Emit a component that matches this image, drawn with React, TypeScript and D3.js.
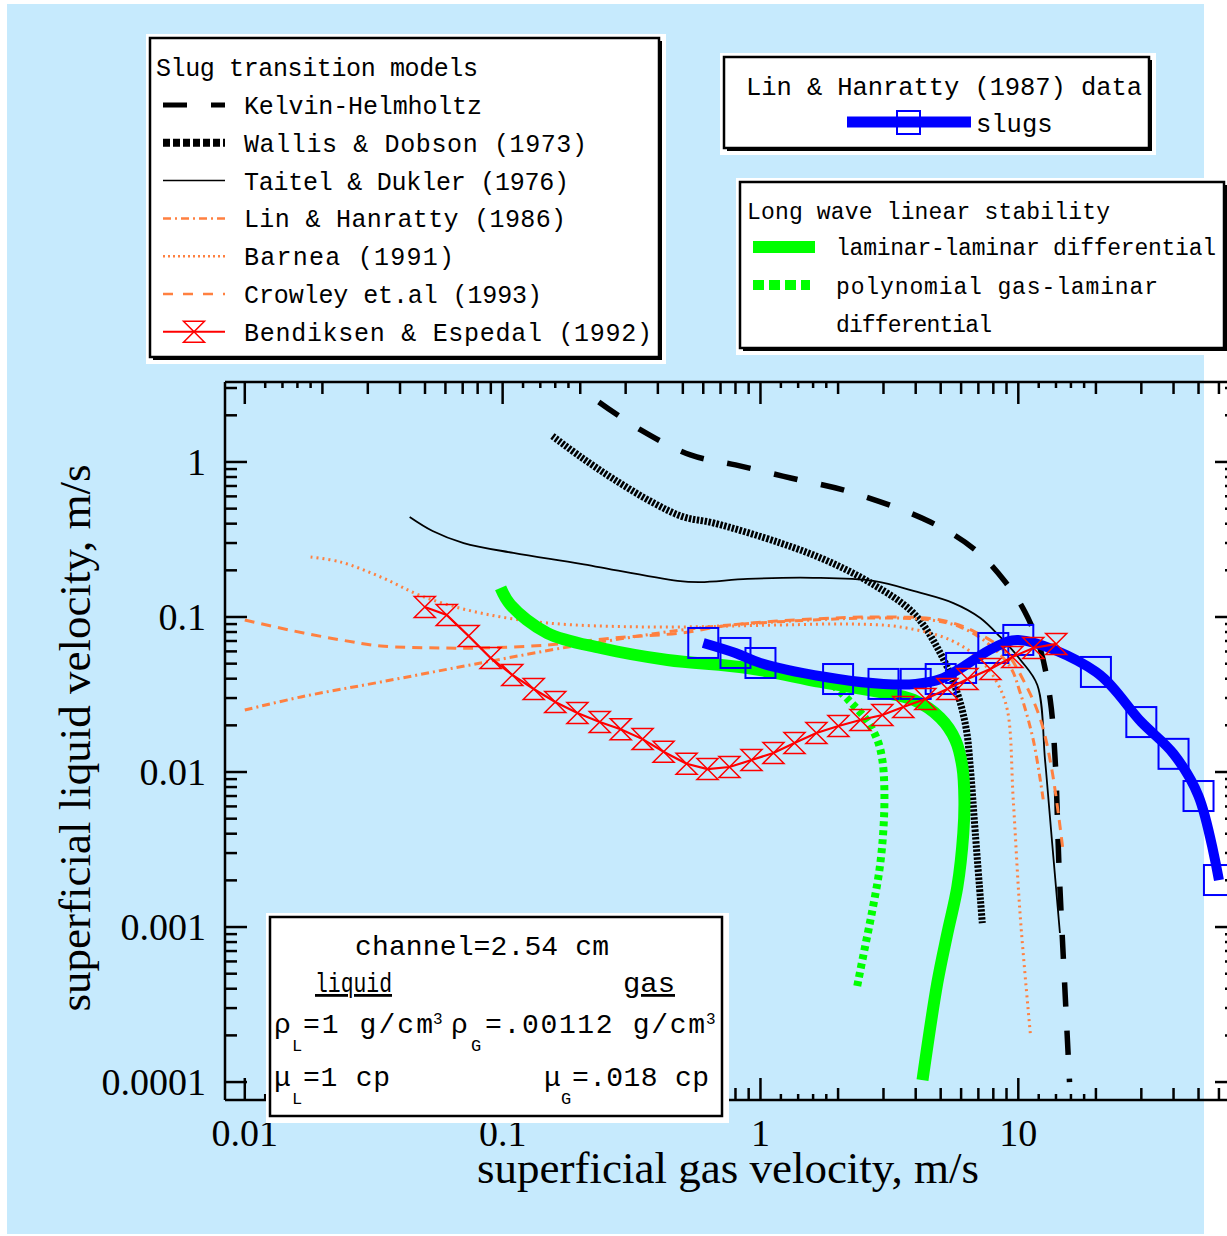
import React from 'react';
import * as d3 from 'd3';

type Pt = [number, number];

// axis extents (m/s)
const xDomain: [number, number] = [0.00838, 70.5];
const yDomain: [number, number] = [7.66e-5, 3.28];
const xTickValues = [0.01, 0.1, 1, 10];
const xTickLabels = ['0.01', '0.1', '1', '10'];
const yTickValues = [1, 0.1, 0.01, 0.001, 0.0001];
const yTickLabels = ['1', '0.1', '0.01', '0.001', '0.0001'];
const xFineMultipliers = [1.2, 1.4, 1.6, 1.8];

// slug transition models
const kelvinHelmholtz: Pt[] = [
  [0.236, 2.44], [0.343, 1.61], [0.535, 1.11], [0.8, 0.957], [1.31, 0.788], [2.23, 0.64],
  [4.56, 0.41], [6.81, 0.271], [8.91, 0.168], [10.6, 0.108], [12.2, 0.0612], [13.3, 0.0292],
  [13.9, 0.0119], [14.4, 0.00233], [15.1, 0.000455], [15.8, 0.0001],
];
const wallisDobson: Pt[] = [
  [0.156, 1.47], [0.201, 1.077], [0.269, 0.777], [0.385, 0.544], [0.503, 0.442], [0.658, 0.404],
  [1.195, 0.3], [1.787, 0.233], [2.67, 0.166], [3.92, 0.106], [4.98, 0.0586], [5.8, 0.0323],
  [6.29, 0.0187], [6.51, 0.0108], [6.81, 0.00404], [7.25, 0.00106],
];
const taitelDukler: Pt[] = [
  [0.0436, 0.442], [0.0535, 0.359], [0.0706, 0.3], [0.11, 0.259], [0.201, 0.22], [0.477, 0.171],
  [0.585, 0.168], [0.891, 0.176], [1.6, 0.179], [2.74, 0.171], [4.06, 0.145], [5.6, 0.123],
  [7.12, 0.0986], [8.51, 0.0743], [10.2, 0.0528], [11.85, 0.0364], [12.7, 0.0119],
  [13.5, 0.00364], [14.5, 0.000915],
];
const linHanratty86: Pt[] = [
  [0.01, 0.0251], [0.0165, 0.0305], [0.0337, 0.0381], [0.0822, 0.0505], [0.179, 0.064],
  [0.269, 0.0711], [0.49, 0.0824], [0.765, 0.0888], [1.605, 0.0957], [2.92, 0.0986],
  [4.56, 0.0957], [5.96, 0.0862], [7.58, 0.068], [9.31, 0.0476], [10.18, 0.0323],
  [11.43, 0.0161], [12.5, 0.00659],
];
const barnea: Pt[] = [
  [0.018, 0.244], [0.0236, 0.226], [0.0337, 0.181], [0.0494, 0.135], [0.0822, 0.106],
  [0.149, 0.0915], [0.365, 0.0862], [1.195, 0.0888], [2.23, 0.0901], [3.49, 0.0862],
  [5.45, 0.0711], [7.12, 0.0528], [8.29, 0.0375], [9.07, 0.0251], [9.56, 0.00659],
  [10.18, 0.00116], [11.13, 0.000207],
];
const crowley: Pt[] = [
  [0.01, 0.0957], [0.0155, 0.0812], [0.0236, 0.0711], [0.0337, 0.065], [0.0575, 0.0631],
  [0.0822, 0.0631], [0.149, 0.066], [0.269, 0.0732], [0.49, 0.0788], [0.765, 0.0888],
  [1.605, 0.0971], [2.92, 0.1], [4.99, 0.0957], [6.81, 0.08], [8.91, 0.0595], [10.6, 0.0375],
  [12.2, 0.0217], [13.5, 0.0103], [14.9, 0.00314],
];
const bendiksen: Pt[] = [
  [0.0499, 0.116], [0.0607, 0.103], [0.0738, 0.0754], [0.0898, 0.0544], [0.109, 0.0423],
  [0.132, 0.0343], [0.16, 0.0283], [0.195, 0.024], [0.238, 0.021], [0.287, 0.0189],
  [0.349, 0.0163], [0.421, 0.0135], [0.517, 0.0113], [0.623, 0.01045], [0.758, 0.01077],
  [0.923, 0.01194], [1.123, 0.01327], [1.355, 0.01539], [1.648, 0.01785], [2.006, 0.0198],
  [2.441, 0.02165], [2.97, 0.02333], [3.58, 0.02626], [4.36, 0.02958], [5.31, 0.0343],
  [6.35, 0.0398], [7.79, 0.0462], [9.48, 0.0552], [11.43, 0.0631], [14.03, 0.067],
];

// long wave linear stability
const laminarLaminar: Pt[] = [
  [0.0982, 0.154], [0.1074, 0.1195], [0.149, 0.0788], [0.24, 0.0631], [0.436, 0.0528],
  [0.89, 0.0469], [1.708, 0.0381], [2.918, 0.0328], [3.917, 0.0292], [4.985, 0.0223],
  [5.7, 0.0161], [6.07, 0.01077], [6.18, 0.00659], [6.12, 0.00404], [5.8, 0.00181],
  [5.31, 0.000915], [4.85, 0.000435], [4.25, 0.000103],
];
const polyGasLaminar: Pt[] = [
  [1.918, 0.0364], [2.193, 0.0292], [2.576, 0.0217], [2.841, 0.0161], [2.971, 0.0119],
  [3.024, 0.00765], [2.997, 0.00423], [2.893, 0.00233], [2.718, 0.00129], [2.53, 0.000711],
  [2.356, 0.000392],
];

// Lin & Hanratty (1987) slug data
const slugUg = [0.6, 0.8, 1, 2, 3, 4, 5, 6, 8, 10, 20, 30, 40, 50, 60];
const slugUl = [0.068, 0.0586, 0.0505, 0.0398, 0.037, 0.037, 0.0398, 0.0469, 0.0631, 0.0711,
  0.0442, 0.021, 0.0131, 0.007, 0.00201];

const ORANGE = '#ff8040';
const BLUE = '#0000ff';
const GREEN = '#00ff00';
const MONO = '"Liberation Mono", "DejaVu Sans Mono", monospace';
const SERIF = '"Liberation Serif", "DejaVu Serif", serif';

const hourglass = (cx: number, cy: number, s: number) =>
  `M${cx - s},${cy - s}H${cx + s}L${cx - s},${cy + s}H${cx + s}Z`;

const Box = ({ x, y, w, h, shadow = true }: { x: number; y: number; w: number; h: number; shadow?: boolean }) => (
  <g>
    <rect x={x - 4} y={y - 4} width={w + 11} height={h + 11} fill="#fff" />
    {shadow && <rect x={x + 3} y={y + 3} width={w} height={h} fill="#000" />}
    <rect x={x} y={y} width={w} height={h} fill="#fff" stroke="#000" strokeWidth={2.5} />
  </g>
);

export default function App() {
  const x = d3.scaleLog().domain(xDomain).range([225, 1237]);
  const y = d3.scaleLog().domain(yDomain).range([1100, 382]);
  const smooth = d3.line<Pt>().x(d => x(d[0])).y(d => y(d[1])).curve(d3.curveCatmullRom.alpha(0.5));
  const straight = d3.line<Pt>().x(d => x(d[0])).y(d => y(d[1]));
  const isMajor = (v: number) => { const l = Math.log10(v); return Math.abs(l - Math.round(l)) < 1e-6; };
  const xt = x.ticks().filter(v => v >= 0.00999 && v < xDomain[1]);
  const xFine = xTickValues.flatMap(d => xFineMultipliers.map(m => m * d)).filter(v => v < xDomain[1]);
  const yt = y.ticks().filter(v => v >= 0.0000999 && v < yDomain[1]);
  const slugs: Pt[] = slugUg.map((u, i) => [u, slugUl[i]]);
  const [L, R] = x.range();
  const [B, T] = y.range();

  const lg1 = [
    'Kelvin-Helmholtz', 'Wallis & Dobson (1973)', 'Taitel & Dukler (1976)', 'Lin & Hanratty (1986)',
    'Barnea (1991)', 'Crowley et.al (1993)', 'Bendiksen & Espedal (1992)',
  ];
  const lg1Len = [236, 341, 323, 320, 208, 296, 406];
  const lgStyles = [
    { stroke: '#000', w: 5, dash: '24 24' },
    { stroke: '#000', w: 8, dash: '7 3' },
    { stroke: '#000', w: 1.5, dash: '' },
    { stroke: ORANGE, w: 2.5, dash: '8 4 2 4' },
    { stroke: ORANGE, w: 2.5, dash: '2 3' },
    { stroke: ORANGE, w: 2.5, dash: '10 10' },
    { stroke: 'red', w: 2, dash: '' },
  ];

  return (
    <div style={{ position: 'absolute', left: 0, top: 0 }}>
      <svg width={1227} height={1236} style={{ display: 'block' }}>
        <rect x={0} y={0} width={1227} height={1236} fill="#fff" />
        <rect x={7} y={4} width={1197} height={1230} fill="#c6eafd" />

        {/* frame + ticks */}
        <g stroke="#000" strokeWidth={2.5} fill="none">
          <line x1={L} x2={R} y1={T} y2={T} />
          <line x1={L} x2={R} y1={B} y2={B} />
          <line x1={L} x2={L} y1={T} y2={B} />
          <line x1={R} x2={R} y1={T} y2={B} />
          {xt.map((v, i) => {
            const len = isMajor(v) ? 22 : 12;
            return (
              <g key={'xt' + i}>
                <line x1={x(v)} x2={x(v)} y1={B} y2={B - len} />
                <line x1={x(v)} x2={x(v)} y1={T} y2={T + len} />
              </g>
            );
          })}
          {xFine.map((v, i) => (
            <g key={'xf' + i}>
              <line x1={x(v)} x2={x(v)} y1={B} y2={B - 6} />
              <line x1={x(v)} x2={x(v)} y1={T} y2={T + 6} />
            </g>
          ))}
          {yt.map((v, i) => {
            const len = isMajor(v) ? 22 : 12;
            return (
              <g key={'yt' + i}>
                <line x1={L} x2={L + len} y1={y(v)} y2={y(v)} />
                <line x1={R} x2={R - len} y1={y(v)} y2={y(v)} />
              </g>
            );
          })}
        </g>
        <g fontFamily={SERIF} fontSize={38} fill="#000">
          {xTickValues.map((v, i) => (
            <text key={'xl' + i} x={x(v)} y={1146} textAnchor="middle">{xTickLabels[i]}</text>
          ))}
          {yTickValues.map((v, i) => (
            <text key={'yl' + i} x={206} y={y(v)} dy="0.33em" textAnchor="end">{yTickLabels[i]}</text>
          ))}
        </g>
        <text x={728} y={1183} fontFamily={SERIF} fontSize={45} textAnchor="middle">superficial gas velocity, m/s</text>
        <text transform="translate(90,738) rotate(-90)" fontFamily={SERIF} fontSize={45} textAnchor="middle">superficial liquid velocity, m/s</text>

        {/* model curves */}
        <g fill="none">
          <path d={smooth(kelvinHelmholtz) || ''} stroke="#000" strokeWidth={5.5} strokeDasharray="24 24" />
          <path d={smooth(wallisDobson) || ''} stroke="#000" strokeWidth={7} strokeDasharray="2.5 1.5" />
          <path d={smooth(taitelDukler) || ''} stroke="#000" strokeWidth={1.8} />
          <path d={smooth(linHanratty86) || ''} stroke={ORANGE} strokeWidth={3} strokeDasharray="8 4 2 4" />
          <path d={smooth(barnea) || ''} stroke={ORANGE} strokeWidth={3} strokeDasharray="2 4" />
          <path d={smooth(crowley) || ''} stroke={ORANGE} strokeWidth={3} strokeDasharray="10 7" />
          <path d={smooth(laminarLaminar) || ''} stroke={GREEN} strokeWidth={12} />
          <path d={smooth(polyGasLaminar) || ''} stroke={GREEN} strokeWidth={8} strokeDasharray="5 4" />
          <path d={smooth(slugs) || ''} stroke={BLUE} strokeWidth={10} />
          {slugs.map((d, i) => (
            <rect key={'sq' + i} x={x(d[0]) - 15} y={y(d[1]) - 15} width={30} height={30} stroke={BLUE} strokeWidth={2} />
          ))}
          <path d={straight(bendiksen) || ''} stroke="red" strokeWidth={2.2} />
          {bendiksen.map((d, i) => (
            <path key={'hg' + i} d={hourglass(x(d[0]), y(d[1]), 10.5)} stroke="red" strokeWidth={1.5} />
          ))}
        </g>

        {/* parameter box */}
        <Box x={270} y={917} w={452} h={199} shadow={false} />
        <g fontFamily={MONO} fontSize={28} fill="#000">
          <text x={355} y={955} textLength={254}>channel=2.54 cm</text>
          <text x={315} y={992} textDecoration="underline" textLength={77} lengthAdjust="spacingAndGlyphs">liquid</text>
          <text x={623} y={992} textDecoration="underline" textLength={52} lengthAdjust="spacingAndGlyphs">gas</text>
          <text x={274} y={1033}>ρ</text>
          <text x={292} y={1051} fontSize={17}>L</text>
          <text x={303} y={1033} textLength={130}>=1 g/cm</text>
          <text x={433} y={1024} fontSize={16}>3</text>
          <text x={451} y={1033}>ρ</text>
          <text x={471} y={1051} fontSize={17}>G</text>
          <text x={485} y={1033} textLength={220}>=.00112 g/cm</text>
          <text x={706} y={1024} fontSize={16}>3</text>
          <text x={274} y={1086}>μ</text>
          <text x={292} y={1104} fontSize={17}>L</text>
          <text x={303} y={1086} textLength={87}>=1 cp</text>
          <text x={544} y={1086}>μ</text>
          <text x={561} y={1104} fontSize={17}>G</text>
          <text x={572} y={1086} textLength={137}>=.018 cp</text>
        </g>

        {/* legend: slug transition models */}
        <Box x={150} y={38} w={509} h={319} />
        <g fontFamily={MONO} fontSize={25} fill="#000">
          <text x={156} y={76} textLength={322}>Slug transition models</text>
          {lg1.map((t, i) => {
            const cy = 105 + i * 37.8;
            const s = lgStyles[i];
            return (
              <g key={'lg' + i}>
                <line x1={163} x2={225} y1={cy} y2={cy} stroke={s.stroke} strokeWidth={s.w} strokeDasharray={s.dash || undefined} />
                {i === 6 && <path d={hourglass(194, cy, 10.5)} fill="none" stroke="red" strokeWidth={1.5} />}
                <text x={244} y={cy + 9} textLength={lg1Len[i] + 2}>{t}</text>
              </g>
            );
          })}
        </g>

        {/* legend: data */}
        <Box x={724} y={57} w={425} h={91} />
        <g fontFamily={MONO} fontSize={25.5} fill="#000">
          <text x={746} y={95} textLength={396}>Lin &amp; Hanratty (1987) data</text>
          <line x1={847} x2={971} y1={122} y2={122} stroke={BLUE} strokeWidth={11} />
          <rect x={897} y={111} width={23} height={23} fill="none" stroke={BLUE} strokeWidth={2} />
          <text x={976} y={132}>slugs</text>
        </g>

        {/* legend: long wave stability */}
        <Box x={740} y={182} w={484} h={166} />
        <g fontFamily={MONO} fontSize={23} fill="#000">
          <text x={747} y={219} textLength={363}>Long wave linear stability</text>
          <line x1={753} x2={815} y1={247} y2={247} stroke={GREEN} strokeWidth={12} />
          <text x={836} y={255} textLength={380}>laminar-laminar differential</text>
          <line x1={753} x2={810} y1={285} y2={285} stroke={GREEN} strokeWidth={10} strokeDasharray="11 5" />
          <text x={836} y={294} textLength={322}>polynomial gas-laminar</text>
          <text x={836} y={332} textLength={156}>differential</text>
        </g>
      </svg>
    </div>
  );
}
